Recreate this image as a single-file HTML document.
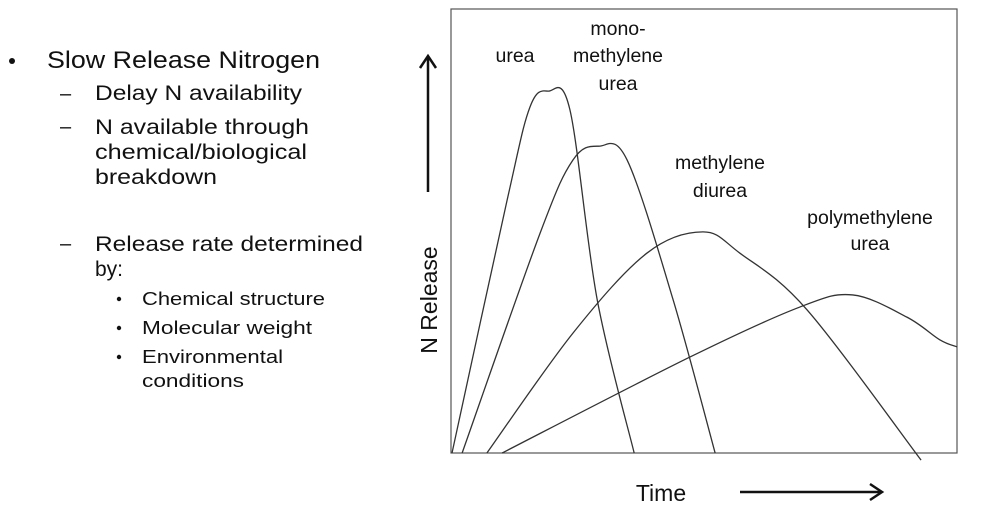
<!DOCTYPE html>
<html><head><meta charset="utf-8"><style>
html,body{margin:0;padding:0;background:#fff;}
svg{display:block;}
.t{font-family:"Liberation Sans",sans-serif;fill:#111;}
</style></head><body>
<svg width="1000" height="509" viewBox="0 0 1000 509">
<g class="t">
<circle cx="12" cy="61" r="3" fill="#111"/>
<text x="47" y="68" font-size="24" textLength="273" lengthAdjust="spacingAndGlyphs">Slow Release Nitrogen</text>
<text x="60" y="100" font-size="20">–</text>
<text x="95" y="100" font-size="21" textLength="207" lengthAdjust="spacingAndGlyphs">Delay N availability</text>
<text x="60" y="133" font-size="20">–</text>
<text x="95" y="134" font-size="21" textLength="214" lengthAdjust="spacingAndGlyphs">N available through</text>
<text x="95" y="159" font-size="21" textLength="212" lengthAdjust="spacingAndGlyphs">chemical/biological</text>
<text x="95" y="184" font-size="21" textLength="122" lengthAdjust="spacingAndGlyphs">breakdown</text>
<text x="60" y="250" font-size="20">–</text>
<text x="95" y="251" font-size="21" textLength="268" lengthAdjust="spacingAndGlyphs">Release rate determined</text>
<text x="95" y="276" font-size="21">by:</text>
<circle cx="119" cy="299" r="2.2" fill="#111"/>
<text x="142" y="305" font-size="18.5" textLength="183" lengthAdjust="spacingAndGlyphs">Chemical structure</text>
<circle cx="119" cy="328" r="2.2" fill="#111"/>
<text x="142" y="334" font-size="18.5" textLength="170" lengthAdjust="spacingAndGlyphs">Molecular weight</text>
<circle cx="119" cy="357" r="2.2" fill="#111"/>
<text x="142" y="363" font-size="18.5" textLength="141" lengthAdjust="spacingAndGlyphs">Environmental</text>
<text x="142" y="387" font-size="18.5" textLength="102" lengthAdjust="spacingAndGlyphs">conditions</text>
</g>
<rect x="451" y="9" width="506" height="444" fill="none" stroke="#555" stroke-width="1.2"/>
<g id="curves"></g>
<g class="t" font-size="19.5" text-anchor="middle">
<text x="515" y="62">urea</text>
<text x="618" y="35">mono-</text>
<text x="618" y="62">methylene</text>
<text x="618" y="90">urea</text>
<text x="720" y="169">methylene</text>
<text x="720" y="197">diurea</text>
<text x="870" y="224">polymethylene</text>
<text x="870" y="250">urea</text>
</g>
<text class="t" x="661" y="501" font-size="23" text-anchor="middle">Time</text>
<g><line x1="740" y1="492" x2="880" y2="492" stroke="#111" stroke-width="2.5"/><polyline points="870,484 882,492 870,500" fill="none" stroke="#111" stroke-width="2.5"/></g>
<text class="t" font-size="23" text-anchor="middle" transform="translate(437,300) rotate(-90)">N Release</text>
<g><line x1="428" y1="192" x2="428" y2="58" stroke="#111" stroke-width="2.5"/><polyline points="420,68 428,56 436,68" fill="none" stroke="#111" stroke-width="2.5"/></g>
</svg>
<script>
const ureaT=[0.2,11.1,15.6,19.2,23.5,28.9,36.2];
const ureaR=[0,57,77.9,81.5,77.3,34.5,0];
const monoT=[2.2,17.6,24.1,29.2,34.8,43.9,52.2];
const monoR=[0,49.5,66,69.1,66,34.5,0];
const diureaT=[7.1,24.1,38.7,49.8,57.1,70.4,92.9];
const diureaR=[0,27,45,49.8,45,32.2,-1.6];
const polyT=[10.1,47.2,69,79.4,90.1,96.6,100];
const polyR=[0,21.6,32.9,35.6,30.6,25.5,23.9];
function xs(t){return 451+t*5.06;}
function ys(r){return 453-r*4.44;}
function pathFor(T,R){
  const p=T.map((t,i)=>[xs(t),ys(R[i])]);
  let d='M'+p[0][0]+','+p[0][1];
  for(let i=0;i<p.length-1;i++){
    const p0=p[Math.max(0,i-1)],p1=p[i],p2=p[i+1],p3=p[Math.min(p.length-1,i+2)];
    const c1=[p1[0]+(p2[0]-p0[0])/6,p1[1]+(p2[1]-p0[1])/6];
    const c2=[p2[0]-(p3[0]-p1[0])/6,p2[1]-(p3[1]-p1[1])/6];
    d+=' C'+c1+' '+c2+' '+p2;
  }
  return d;
}
const g=document.getElementById('curves');
const series=[['curve-urea',ureaT,ureaR],['curve-monomethylene-urea',monoT,monoR],['curve-methylene-diurea',diureaT,diureaR],['curve-polymethylene-urea',polyT,polyR]];
series.forEach(s=>{
  const el=document.createElementNS('http://www.w3.org/2000/svg','path');
  el.setAttribute('d',pathFor(s[1],s[2]));
  el.setAttribute('fill','none');
  el.setAttribute('stroke','#333');
  el.setAttribute('stroke-width','1.3');
  
  
  g.appendChild(el);
});
</script>
</body></html>
